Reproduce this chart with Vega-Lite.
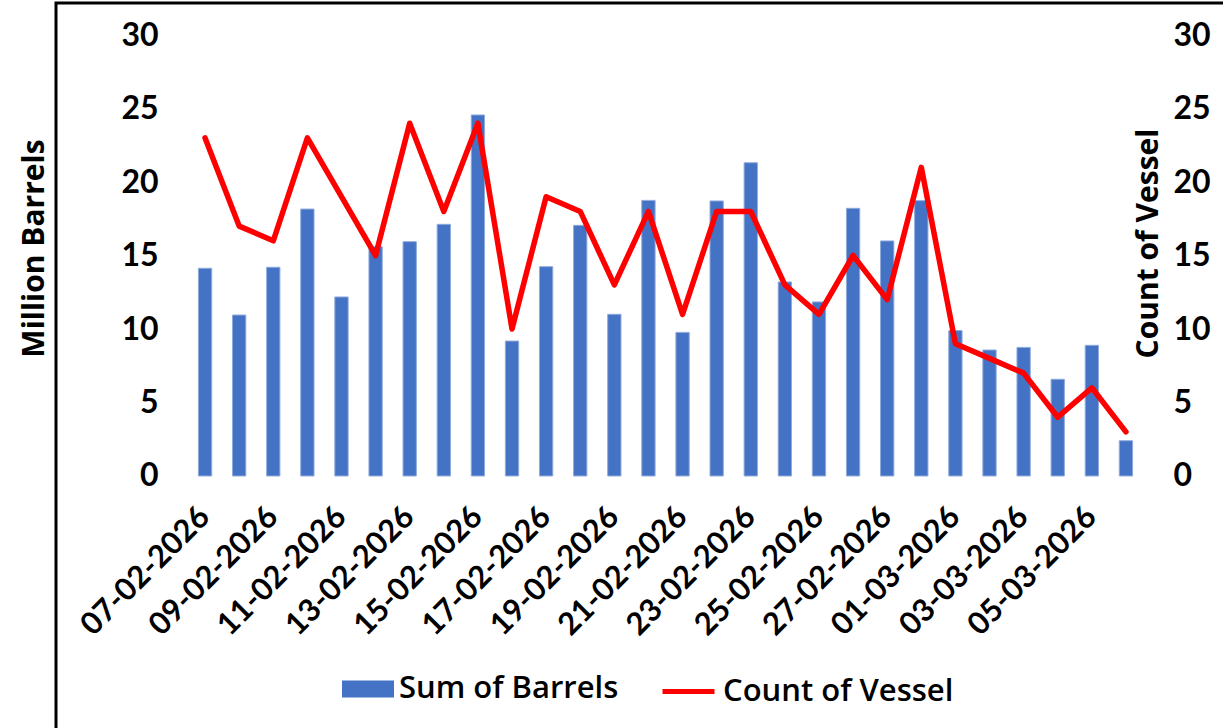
{
  "$schema": "https://vega.github.io/schema/vega-lite/v6.json",
  "autosize": "none",
  "width": 1167,
  "height": 725,
  "padding": {"left": 56, "top": 3, "right": 0, "bottom": 0},
  "background": "white",
  "config": {
    "view": {"stroke": "black", "strokeWidth": 3, "strokeDash": [1167, 1892, 725]},
    "axis": {"grid": false, "domain": false, "ticks": false, "labelColor": "black", "titleColor": "black"}
  },
  "data": {
    "values": [
      {"date": "07-02-2026", "barrels": 14.13, "vessels": 23},
      {"date": "08-02-2026", "barrels": 10.95, "vessels": 17},
      {"date": "09-02-2026", "barrels": 14.2, "vessels": 16},
      {"date": "10-02-2026", "barrels": 18.16, "vessels": 23},
      {"date": "11-02-2026", "barrels": 12.18, "vessels": 19},
      {"date": "12-02-2026", "barrels": 15.6, "vessels": 15},
      {"date": "13-02-2026", "barrels": 15.94, "vessels": 24},
      {"date": "14-02-2026", "barrels": 17.12, "vessels": 18},
      {"date": "15-02-2026", "barrels": 24.56, "vessels": 24},
      {"date": "16-02-2026", "barrels": 9.18, "vessels": 10},
      {"date": "17-02-2026", "barrels": 14.24, "vessels": 19},
      {"date": "18-02-2026", "barrels": 17.05, "vessels": 18},
      {"date": "19-02-2026", "barrels": 11.0, "vessels": 13},
      {"date": "20-02-2026", "barrels": 18.75, "vessels": 18},
      {"date": "21-02-2026", "barrels": 9.77, "vessels": 11},
      {"date": "22-02-2026", "barrels": 18.71, "vessels": 18},
      {"date": "23-02-2026", "barrels": 21.31, "vessels": 18},
      {"date": "24-02-2026", "barrels": 13.2, "vessels": 13},
      {"date": "25-02-2026", "barrels": 11.84, "vessels": 11},
      {"date": "26-02-2026", "barrels": 18.21, "vessels": 15},
      {"date": "27-02-2026", "barrels": 15.99, "vessels": 12},
      {"date": "28-02-2026", "barrels": 18.73, "vessels": 21},
      {"date": "01-03-2026", "barrels": 9.89, "vessels": 9},
      {"date": "02-03-2026", "barrels": 8.57, "vessels": 8},
      {"date": "03-03-2026", "barrels": 8.75, "vessels": 7},
      {"date": "04-03-2026", "barrels": 6.58, "vessels": 4},
      {"date": "05-03-2026", "barrels": 8.89, "vessels": 6},
      {"date": "06-03-2026", "barrels": 2.4, "vessels": 3}
    ]
  },
  "encoding": {
    "x": {
      "field": "date",
      "type": "ordinal",
      "sort": null,
      "scale": {"type": "band", "range": [132, 1087], "paddingInner": 0.61, "paddingOuter": 0.305, "round": false},
      "axis": {
        "title": null,
        "offset": -252,
        "values": ["07-02-2026", "09-02-2026", "11-02-2026", "13-02-2026", "15-02-2026", "17-02-2026", "19-02-2026", "21-02-2026", "23-02-2026", "25-02-2026", "27-02-2026", "01-03-2026", "03-03-2026", "05-03-2026"],
        "labelAngle": -45,
        "labelAlign": "right",
        "labelBaseline": "middle",
        "labelPadding": 36,
        "labelFont": "Lato",
        "labelFontWeight": "bold",
        "labelFontSize": 31,
        "labelLimit": 0,
        "labelOverlap": false
      }
    }
  },
  "layer": [
    {
      "mark": {"type": "bar", "stroke": "#8faadc", "strokeWidth": 1},
      "encoding": {
        "y": {
          "field": "barrels",
          "type": "quantitative",
          "scale": {"domain": [-17.143, 32.177], "nice": false, "zero": false},
          "axis": {
            "orient": "left",
            "offset": -132,
            "values": [0, 5, 10, 15, 20, 25, 30],
            "labelPadding": 30,
            "labelFont": "Lato",
            "labelFontWeight": "bold",
            "labelFontSize": 32,
            "labelOverlap": false,
            "title": "Million Barrels",
            "titleFont": "Open Sans",
            "titleFontWeight": "bold",
            "titleFontSize": 30,
            "titleAngle": 270,
            "titleAlign": "center",
            "titleBaseline": "alphabetic",
            "titleX": -145,
            "titleY": 245
          }
        },
        "y2": {"datum": 0},
        "color": {
          "datum": "Sum of Barrels",
          "scale": {"range": ["#4472C4"]},
          "legend": {
            "title": null,
            "orient": "none",
            "legendX": 286,
            "legendY": 660,
            "padding": 0,
            "symbolType": "M-1,-0.327H1V0.327H-1Z",
            "symbolSize": 2704,
            "symbolStrokeWidth": 0,
            "labelOffset": 5,
            "labelFont": "Open Sans",
            "labelFontWeight": 600,
            "labelFontSize": 31,
            "labelColor": "black",
            "labelLimit": 0
          }
        }
      }
    },
    {
      "mark": {"type": "line", "strokeWidth": 5.5, "strokeJoin": "round", "strokeCap": "round"},
      "encoding": {
        "y": {
          "field": "vessels",
          "type": "quantitative",
          "scale": {"domain": [-17.143, 32.177], "nice": false, "zero": false},
          "axis": {
            "orient": "right",
            "offset": -80,
            "values": [0, 5, 10, 15, 20, 25, 30],
            "labelPadding": 30,
            "labelFont": "Lato",
            "labelFontWeight": "bold",
            "labelFontSize": 32,
            "labelOverlap": false,
            "title": "Count of Vessel",
            "titleFont": "Open Sans",
            "titleFontWeight": "bold",
            "titleFontSize": 30,
            "titleAngle": 270,
            "titleAlign": "center",
            "titleBaseline": "alphabetic",
            "titleX": 14,
            "titleY": 240
          }
        },
        "stroke": {
          "datum": "Count of Vessel",
          "scale": {"range": ["#FF0000"]},
          "legend": {
            "title": null,
            "orient": "none",
            "legendX": 604,
            "legendY": 660,
            "padding": 0,
            "symbolType": "stroke",
            "symbolSize": 2704,
            "symbolStrokeWidth": 5,
            "labelOffset": 6,
            "labelFont": "Open Sans",
            "labelFontWeight": 600,
            "labelFontSize": 31,
            "labelColor": "black",
            "labelLimit": 0
          }
        }
      }
    }
  ],
  "resolve": {"scale": {"y": "independent"}}
}
